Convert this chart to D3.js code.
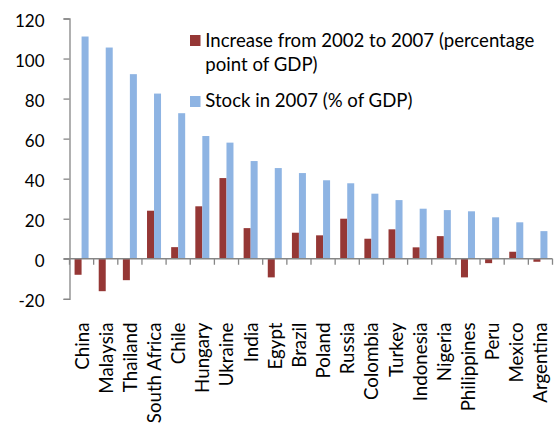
<!DOCTYPE html>
<html>
<head>
<meta charset="utf-8">
<script src="https://cdn.jsdelivr.net/npm/d3@7"></script>
<style>
  html, body { margin: 0; padding: 0; background: #fff; }
  svg text { font-family: Lato, "Open Sans", sans-serif; fill: #000; }
</style>
</head>
<body>
<svg id="chart" width="557" height="427"></svg>
<script>
// Countries, ordered by 2007 stock
const countries = ["China", "Malaysia", "Thailand", "South Africa", "Chile", "Hungary", "Ukraine",
  "India", "Egypt", "Brazil", "Poland", "Russia", "Colombia", "Turkey", "Indonesia", "Nigeria",
  "Philippines", "Peru", "Mexico", "Argentina"];

// Increase from 2002 to 2007 (percentage point of GDP)
const increase = [-8, -16.2, -10.7, 24, 5.8, 26.2, 40.3, 15.3, -9.3, 13, 11.7, 20, 10, 14.7, 5.7,
  11.3, -9.3, -2.2, 3.5, -1.5];

// Stock in 2007 (% of GDP)
const stock = [111, 105.5, 92.2, 82.5, 72.7, 61.3, 58, 48.8, 45.3, 42.8, 39.2, 37.7, 32.5, 29.3,
  25, 24.3, 23.7, 20.7, 18.2, 13.8];

const yTicks = [-20, 0, 20, 40, 60, 80, 100, 120];
const seriesNames = ["Increase from 2002 to 2007 (percentage", "point of GDP)", "Stock in 2007 (% of GDP)"];
const colors = { increase: "#953735", stock: "#8EB4E3" };
const axisColor = "#868686";

const svg = d3.select("#chart");

const x = d3.scaleBand().domain(countries).range([69.5, 552.5]).paddingInner(0).paddingOuter(0);
const y = d3.scaleLinear().domain([-20, 120]).range([298.8, 18.5]);

const bw = x.bandwidth();
const barW = bw * 0.29;
const groupOffset = (bw - 2 * barW) / 2;

// Bars: increase (left) and stock (right) within each band
const g = svg.append("g");
g.selectAll("rect.inc").data(countries).join("rect")
  .attr("class", "inc")
  .attr("x", (d) => x(d) + groupOffset)
  .attr("width", barW)
  .attr("y", (d, i) => y(Math.max(0, increase[i])))
  .attr("height", (d, i) => Math.abs(y(increase[i]) - y(0)))
  .attr("fill", colors.increase);

g.selectAll("rect.stk").data(countries).join("rect")
  .attr("class", "stk")
  .attr("x", (d) => x(d) + groupOffset + barW)
  .attr("width", barW)
  .attr("y", (d, i) => y(Math.max(0, stock[i])))
  .attr("height", (d, i) => Math.abs(y(stock[i]) - y(0)))
  .attr("fill", colors.stock);

// Y axis (plain hyphen for negatives)
const yAxis = svg.append("g")
  .attr("transform", `translate(${x.range()[0]},0)`)
  .call(d3.axisLeft(y).tickValues(yTicks).tickSize(6).tickPadding(19).tickFormat((d) => String(d)));
yAxis.select(".domain").attr("stroke", axisColor).attr("stroke-width", 1.3);
yAxis.selectAll(".tick line").attr("stroke", axisColor).attr("stroke-width", 1.3);
yAxis.selectAll(".tick text").attr("font-size", 17).attr("font-family", "Lato").attr("dy", "0.45em");

// Category axis along zero
const xAxis = svg.append("g")
  .attr("transform", `translate(0,${y(0)})`)
  .call(d3.axisBottom(x).tickSize(0).tickFormat(""));
xAxis.select(".domain").attr("stroke", axisColor).attr("stroke-width", 1.3)
  .attr("d", `M${x.range()[0] - 6},0H${x.range()[1]}`);

// Category tick marks at band boundaries
const boundaries = countries.map((c) => x(c)).concat([x.range()[1]]);
svg.append("g").selectAll("line").data(boundaries).join("line")
  .attr("x1", (d) => d).attr("x2", (d) => d)
  .attr("y1", y(0)).attr("y2", y(0) + 6)
  .attr("stroke", axisColor).attr("stroke-width", 1.3);

// Category labels, rotated
svg.append("g").selectAll("text").data(countries).join("text")
  .attr("transform", (d) => `translate(${x(d) + bw / 2 + 7},322.5) rotate(-90)`)
  .attr("text-anchor", "end")
  .attr("font-size", 18.7)
  .text((d) => d);

// Legend
const legend = svg.append("g");
legend.append("rect").attr("x", 190).attr("y", 35).attr("width", 10.5).attr("height", 11)
  .attr("fill", colors.increase);
legend.append("rect").attr("x", 190).attr("y", 96).attr("width", 10.5).attr("height", 11)
  .attr("fill", colors.stock);
legend.append("text").attr("x", 205.3).attr("y", 46.7).attr("font-size", 18.6).text(seriesNames[0]);
legend.append("text").attr("x", 205.3).attr("y", 70.5).attr("font-size", 18.6).text(seriesNames[1]);
legend.append("text").attr("x", 205.3).attr("y", 107).attr("font-size", 18.6).text(seriesNames[2]);
</script>
</body>
</html>
